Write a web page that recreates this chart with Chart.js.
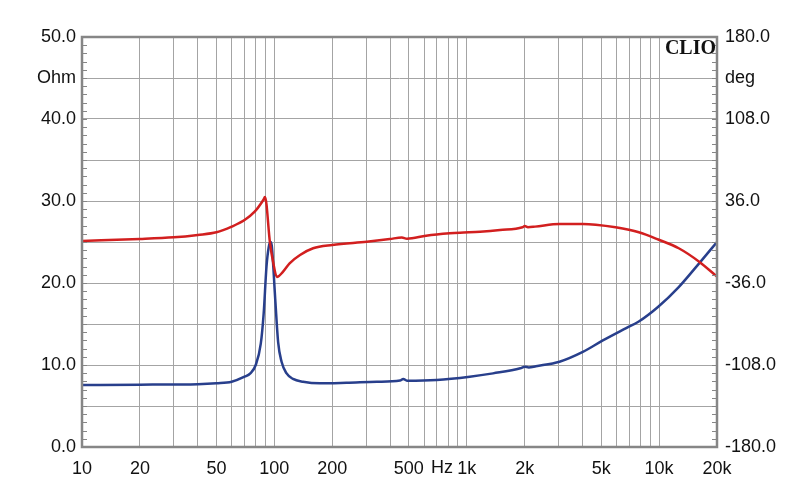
<!DOCTYPE html>
<html>
<head>
<meta charset="utf-8">
<script src="https://cdn.jsdelivr.net/npm/chart.js@4"></script>
<style>
  body { margin: 0; background: #fff; }
  canvas { display: block; }
</style>
</head>
<body>
<canvas id="clio" width="800" height="504"></canvas>
<script>
// impedance (blue, Ohm)
var impFreq = [10, 20, 30, 40, 50, 60, 70, 75, 80, 85, 88, 91, 93.5, 95.5, 97, 101, 104.6, 109, 115.5, 125, 141, 172, 237, 341, 450, 468, 489, 698, 1037, 1370, 1900, 2003, 2100, 2290, 3036, 4013, 5101, 6744, 7844, 9900, 12650, 16150, 20000]
var impOhm = [7.56, 7.6, 7.62, 7.65, 7.77, 7.96, 8.57, 8.98, 10.0, 12.6, 16.3, 22.0, 24.4, 25.0, 24.5, 18.1, 12.8, 10.4, 9.0, 8.3, 7.96, 7.77, 7.84, 7.96, 8.1, 8.3, 8.08, 8.17, 8.57, 8.98, 9.6, 9.8, 9.7, 9.85, 10.4, 11.6, 13.0, 14.5, 15.3, 17.1, 19.5, 22.4, 25.0]

// phase (red, deg)
var phaseFreq = [10, 20, 30, 40, 50, 60, 70, 79, 87.6, 89.4, 94.9, 98.5, 103, 111, 120, 136, 159, 200, 302, 398, 460, 489, 615, 816, 923, 1172, 1490, 1950, 2003, 2080, 2266, 3036, 4013, 4685, 5939, 7844, 9900, 12650, 16150, 20000]
var phaseDeg = [0.9, 2.6, 4.1, 6.2, 8.5, 13.5, 19.3, 26.6, 36.9, 39.5, -0.9, -17.5, -30.7, -26, -18.7, -11.4, -5.5, -2.6, 0.3, 2.6, 4.0, 2.9, 5.5, 7.6, 8.2, 9.0, 10.5, 13.0, 14.0, 13.0, 13.5, 15.8, 15.8, 15.2, 12.9, 8.5, 2.2, -5.5, -17.3, -30.4]

var xGrid = [10, 20, 30, 40, 50, 60, 70, 80, 90, 100, 200, 300, 400, 500, 600, 700, 800, 900, 1000, 2000, 3000, 4000, 5000, 6000, 7000, 8000, 9000, 10000, 20000]
var xLabelValues = [10, 20, 50, 100, 200, 500, 1000, 2000, 5000, 10000, 20000]
var xLabels = ["10", "20", "50", "100", "200", "500", "1k", "2k", "5k", "10k", "20k"]
var leftTicks = [0, 5, 10, 15, 20, 25, 30, 35, 40, 45, 50]
var leftLabels = ["0.0", "", "10.0", "", "20.0", "", "30.0", "", "40.0", "Ohm", "50.0"]
var rightTicks = [-180, -144, -108, -72, -36, 0, 36, 72, 108, 144, 180]
var rightLabels = ["-180.0", "", "-108.0", "", "-36.0", "", "36.0", "", "108.0", "deg", "180.0"]

function pts(xs, ys) {
    return xs.map((x, i) => ({x: x, y: ys[i]}))
}

const labelFont = {family: "'Liberation Sans', Arial, sans-serif", size: 18}

const frame = {
    id: "frame",
    afterDraw(chart) {
        const ctx = chart.ctx
        const a = chart.chartArea
        const yl = chart.scales.yl
        ctx.save()
        ctx.strokeStyle = "#868686"
        ctx.lineWidth = 1
        for (let v = 0; v <= 50; v++) {
            const y = Math.round(yl.getPixelForValue(v)) + 0.5
            ctx.beginPath()
            ctx.moveTo(a.left, y); ctx.lineTo(a.left + 5, y)
            ctx.moveTo(a.right - 5, y); ctx.lineTo(a.right, y)
            ctx.stroke()
        }
        ctx.lineWidth = 2.5
        ctx.strokeRect(a.left, a.top, a.right - a.left, a.bottom - a.top)
        // Hz unit and CLIO mark
        ctx.fillStyle = "#111"
        ctx.font = "18px 'Liberation Sans', Arial, sans-serif"
        ctx.textAlign = "center"
        ctx.textBaseline = "middle"
        ctx.fillText("Hz", 442, 468)
        ctx.font = "bold 20px 'Liberation Serif', 'DejaVu Serif', serif"
        ctx.textAlign = "right"
        ctx.textBaseline = "alphabetic"
        ctx.fillText("CLIO", a.right - 1, 54)
        ctx.restore()
    }
}

new Chart(document.querySelector("#clio"), {
    type: "line",
    data: {
        datasets: [{
            label: "Phase",
            data: pts(phaseFreq, phaseDeg),
            yAxisID: "yr",
            borderColor: "#d21f1f",
            borderWidth: 2.5,
            pointRadius: 0,
            cubicInterpolationMode: "monotone"
        }, {
            label: "Impedance",
            data: pts(impFreq, impOhm),
            yAxisID: "yl",
            borderColor: "#283f8c",
            borderWidth: 2.5,
            pointRadius: 0,
            cubicInterpolationMode: "monotone"
        }]
    },
    options: {
        responsive: false,
        animation: false,
        layout: {padding: {top: 37, left: 0, right: 0, bottom: 0}},
        plugins: {legend: {display: false}, tooltip: {enabled: false}},
        scales: {
            x: {
                type: "logarithmic",
                min: 10,
                max: 20000,
                afterBuildTicks: s => { s.ticks = xGrid.map(v => ({value: v})) },
                afterFit: s => { s.height = 57 },
                grid: {color: "#a4a4a4", lineWidth: 1, drawTicks: false},
                border: {display: false},
                ticks: {
                    autoSkip: false,
                    maxRotation: 0,
                    padding: 11,
                    color: "#111",
                    font: labelFont,
                    callback: v => {
                        const i = xLabelValues.indexOf(v)
                        return i >= 0 ? xLabels[i] : ""
                    }
                }
            },
            yl: {
                position: "left",
                min: 0,
                max: 50,
                afterBuildTicks: s => { s.ticks = leftTicks.map(v => ({value: v})) },
                afterFit: s => { s.width = 82 },
                grid: {color: "#a4a4a4", lineWidth: 1, drawTicks: false},
                border: {display: false},
                ticks: {
                    padding: 6,
                    color: "#111",
                    font: labelFont,
                    callback: v => leftLabels[leftTicks.indexOf(v)] ?? ""
                }
            },
            yr: {
                position: "right",
                min: -180,
                max: 180,
                afterBuildTicks: s => { s.ticks = rightTicks.map(v => ({value: v})) },
                afterFit: s => { s.width = 83 },
                grid: {display: false, drawTicks: false},
                border: {display: false},
                ticks: {
                    padding: 8,
                    color: "#111",
                    font: labelFont,
                    callback: v => rightLabels[rightTicks.indexOf(v)] ?? ""
                }
            }
        }
    },
    plugins: [frame]
})
</script>
</body>
</html>
